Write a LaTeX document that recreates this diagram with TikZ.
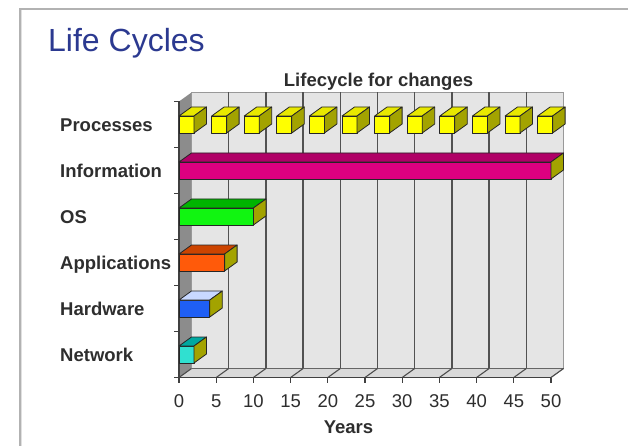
\documentclass[tikz,border=0pt]{standalone}
\usepackage{fontspec}
\setmainfont{Liberation Sans}
\begin{document}
\begin{tikzpicture}[x=1pt,y=-1pt,
  lbl/.style={anchor=base west,inner sep=0pt,font=\fontsize{18.5}{20}\selectfont\bfseries,text=black!82},
  num/.style={anchor=base,inner sep=0pt,font=\fontsize{18.5}{20}\selectfont,text=black!82},
  edge/.style={draw=black!85,line width=0.8pt,line join=round},
  grid/.style={draw=black!68,line width=1.4pt},
  axis/.style={draw=black!75,line width=1.2pt}]
\definecolor{titleblue}{HTML}{2B3990}
\definecolor{olive}{HTML}{A3A300}
\definecolor{yfront}{HTML}{FFFF00}\definecolor{ytop}{HTML}{E8E800}
\definecolor{mfront}{HTML}{DE0080}\definecolor{mtop}{HTML}{B00066}
\definecolor{gfront}{HTML}{11F511}\definecolor{gtop}{HTML}{00B400}
\definecolor{ofront}{HTML}{FF5A0A}\definecolor{otop}{HTML}{CC4400}
\definecolor{bfront}{HTML}{1F5FF5}\definecolor{btop}{HTML}{C8D8FF}
\definecolor{cfront}{HTML}{30E0D0}\definecolor{ctop}{HTML}{00A8A0}
\useasboundingbox (0,0) rectangle (628,446);
\fill[white] (0,0) rectangle (628,446);
% frame
\draw[black!30,line width=1.2pt] (20,446) -- (20,9) -- (628,9);
\draw[black!12,line width=1.5pt] (21.5,446) -- (21.5,10.5);
% titles
\node[anchor=base west,inner sep=0pt,font=\fontsize{32}{34}\selectfont,text=titleblue] (title) at (48,52) {Life Cycles};
\node[anchor=base,inner sep=0pt,font=\fontsize{18.5}{20}\selectfont\bfseries,text=black!82] (ctitle) at (378.5,87) {Lifecycle for changes};
% walls
\def\dx{12.5}\def\dy{-9}
\fill[black!10] (191.5,92.5) rectangle (563.5,368.5);
\fill[black!15] (179,377.5) -- (191.5,368.5) -- (563.5,368.5) -- (551,377.5) -- cycle;
\fill[black!45] (179,101.5) -- (191.5,92.5) -- (191.5,368.5) -- (179,377.5) -- cycle;
\draw[black!40,line width=0.8pt] (191.5,368.5) -- (191.5,92.5) -- (563.5,92.5) -- (563.5,368.5) -- (551,377.5);
\foreach \i in {1,...,9}{
  \draw[grid] ({191.5+\i*37.2},92.5) -- ({191.5+\i*37.2},368.5);
}
\draw[black!60,line width=1pt] (191.5,368.5) -- (563.5,368.5);
\foreach \i in {0,...,10}{
  \draw[black!70,line width=1.1pt] ({179+\i*37.2},377.5) -- ({191.5+\i*37.2},368.5);
  \draw[axis] ({179+\i*37.2},377.5) -- ({179+\i*37.2},382.5);
}
\draw[axis] (179,101.5) -- (179,377.5) -- (551,377.5);
\foreach \k in {0,...,6}{
  \draw[axis] (174,{101.5+\k*46}) -- (179,{101.5+\k*46});
}
% bars
\newcommand\threedbar[5]{%
  \filldraw[edge,fill=#4] (#1,{#3-8.5}) rectangle (#2,{#3+8.5});
  \filldraw[edge,fill=#5] (#1,{#3-8.5}) -- ({#1+\dx},{#3-8.5+\dy}) -- ({#2+\dx},{#3-8.5+\dy}) -- (#2,{#3-8.5}) -- cycle;
  \filldraw[edge,fill=olive] (#2,{#3-8.5}) -- ({#2+\dx},{#3-8.5+\dy}) -- ({#2+\dx},{#3+8.5+\dy}) -- (#2,{#3+8.5}) -- cycle;}
\foreach \i in {0,...,11}{
  \threedbar{179+\i*32.6}{194+\i*32.6}{124.5}{yfront}{ytop}
}
\threedbar{179}{551}{170.5}{mfront}{mtop}
\threedbar{179}{253.4}{216.5}{gfront}{gtop}
\threedbar{179}{224.6}{262.5}{ofront}{otop}
\threedbar{179}{209.8}{308.5}{bfront}{btop}
\threedbar{179}{194}{354.5}{cfront}{ctop}
% category labels
\node[lbl] (l1) at (60,131.1) {Processes};
\node[lbl] (l2) at (60,177.1) {Information};
\node[lbl] (l3) at (60,223.1) {OS};
\node[lbl] (l4) at (60,269.1) {Applications};
\node[lbl] (l5) at (60,315.1) {Hardware};
\node[lbl] (l6) at (60,361.1) {Network};
% axis numbers
\foreach \v [count=\i from 0] in {0,5,10,15,20,25,30,35,40,45,50}{
  \node[num] (n\i) at ({179+\i*37.2},407) {\v};
}
\node[anchor=base,inner sep=0pt,font=\fontsize{18.5}{20}\selectfont\bfseries,text=black!82] (years) at (348.5,433) {Years};
\end{tikzpicture}
\end{document}
